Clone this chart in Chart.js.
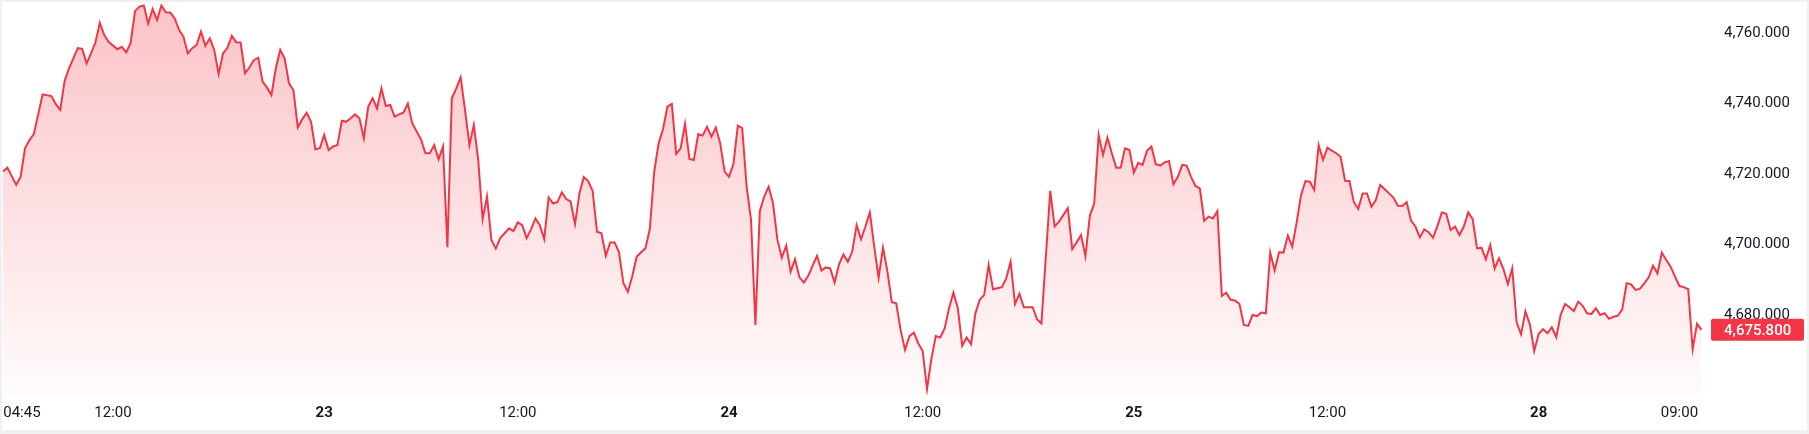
<!DOCTYPE html>
<html lang="en">
<head>
  <meta charset="UTF-8" />
  <title>Price chart</title>
  <script src="https://cdn.jsdelivr.net/npm/chart.js"></script>
  <style>
    html, body { margin: 0; padding: 0; background: #fff; }
    .frame {
      width: 1809px; height: 434px; box-sizing: border-box;
      border: 2px solid #f0f0f0; border-bottom-width: 4px;
    }
    .frame canvas { display: block; }
  </style>
</head>
<body>
  <div class="frame">
    <canvas id="grafico" width="1805" height="428"></canvas>
  </div>

  <script>
    // 15-minute bars, counted in trading time (weekend skipped)
    const bars = [
      0, 1, 3, 4, 5, 6, 7, 9, 11, 12, 13, 14, 15, 17, 18, 19, 20, 21, 22, 23,
      24, 26, 27, 28, 29, 30, 31, 32, 33, 34, 35, 36, 37, 38, 39, 40, 41, 42, 43, 44,
      45, 46, 47, 48, 49, 50, 51, 52, 53, 54, 55, 56, 57, 58, 59, 60, 61, 62, 63, 64,
      65, 66, 67, 68, 69, 70, 71, 72, 73, 74, 75, 76, 77, 78, 79, 80, 81, 82, 83, 84,
      85, 86, 87, 88, 89, 90, 91, 92, 93, 95, 96, 97, 98, 99, 100, 101, 102, 103, 104, 105,
      106, 107, 108, 109, 110, 111, 112, 113, 114, 115, 116, 117, 118, 119, 120, 121, 122, 123, 124, 125,
      126, 127, 128, 129, 130, 131, 132, 133, 134, 135, 136, 137, 138, 139, 140, 141, 142, 143, 144, 145,
      146, 147, 148, 149, 150, 151, 152, 153, 154, 155, 156, 157, 158, 159, 160, 161, 162, 163, 164, 165,
      166, 167, 168, 169, 170, 171, 172, 173, 174, 175, 176, 177, 178, 179, 180, 181, 182, 183, 184, 185,
      186, 187, 188, 189, 190, 191, 192, 193, 194, 195, 196, 197, 198, 199, 200, 201, 202, 203, 204, 205,
      206, 207, 208, 209, 210, 211, 212, 213, 214, 215, 216, 217, 218, 219, 220, 221, 222, 223, 224, 225,
      226, 227, 228, 229, 230, 231, 232, 233, 234, 235, 236, 237, 238, 239, 240, 241, 242, 243, 244, 245,
      246, 247, 248, 249, 250, 251, 252, 253, 254, 255, 256, 257, 258, 259, 260, 261, 262, 263, 264, 265,
      266, 267, 268, 269, 270, 271, 272, 273, 274, 275, 276, 277, 278, 279, 280, 281, 282, 283, 284, 285,
      286, 287, 288, 289, 290, 291, 292, 293, 294, 295, 296, 297, 298, 299, 300, 301, 302, 303, 304, 305,
      306, 307, 308, 309, 310, 311, 312, 313, 314, 315, 316, 317, 318, 319, 320, 321, 322, 323, 324, 325,
      326, 327, 328, 329, 330, 331, 332, 333, 334, 335, 336, 337, 338, 339, 340, 341, 342, 343, 344, 345,
      346, 347, 348, 349, 350, 351, 352, 353, 354, 355, 356, 357, 358, 359, 360, 361, 362, 363, 364, 365,
      366, 367, 368, 369, 370, 371, 372, 373, 374, 375, 376, 377, 378, 379, 380, 381, 382, 383, 384, 385,
      386
    ];

    const prices = [
      4720.7, 4721.8, 4716.9, 4719.2, 4727.3, 4729.6, 4731.3, 4742.6, 4742.1, 4739.8, 4738.2, 4746.4, 4750.0, 4755.7, 4755.5, 4751.4, 4754.2, 4757.3, 4762.9, 4759.4,
      4757.5, 4755.4, 4756.1, 4754.5, 4757.1, 4766.2, 4767.5, 4767.8, 4762.7, 4766.8, 4763.7, 4767.8, 4765.9, 4765.8, 4764.2, 4760.9, 4759.0, 4754.2, 4755.7, 4756.6,
      4760.4, 4756.4, 4758.5, 4755.2, 4748.4, 4754.2, 4755.8, 4759.2, 4757.4, 4757.3, 4748.6, 4750.2, 4752.3, 4753.0, 4746.2, 4744.5, 4742.4, 4750.0, 4755.2, 4752.8,
      4745.7, 4743.8, 4733.2, 4735.5, 4737.4, 4734.8, 4727.0, 4727.3, 4731.1, 4726.8, 4727.8, 4728.2, 4735.1, 4734.8, 4735.8, 4736.9, 4735.8, 4730.1, 4739.1, 4741.5,
      4738.6, 4744.3, 4739.3, 4739.6, 4736.3, 4736.9, 4737.4, 4740.0, 4734.4, 4729.8, 4725.9, 4725.9, 4728.2, 4724.2, 4727.8, 4699.2, 4741.5, 4744.3, 4747.4, 4738.2,
      4728.2, 4733.9, 4724.0, 4707.2, 4713.6, 4701.3, 4698.9, 4701.8, 4703.2, 4704.6, 4703.8, 4706.3, 4705.5, 4701.8, 4704.3, 4707.4, 4705.5, 4701.5, 4713.3, 4711.7,
      4712.0, 4714.8, 4712.9, 4712.2, 4705.8, 4714.5, 4719.1, 4718.0, 4715.2, 4703.6, 4703.2, 4696.8, 4700.6, 4700.6, 4697.8, 4689.0, 4686.6, 4690.9, 4696.5, 4697.8,
      4698.9, 4704.4, 4720.7, 4728.7, 4732.7, 4739.1, 4739.9, 4725.7, 4727.3, 4734.2, 4724.3, 4724.0, 4731.3, 4730.9, 4733.4, 4730.6, 4733.2, 4728.7, 4720.7, 4719.2,
      4722.8, 4733.7, 4733.0, 4716.4, 4707.0, 4677.2, 4709.5, 4713.6, 4716.4, 4711.7, 4701.3, 4696.3, 4699.7, 4692.3, 4695.8, 4690.7, 4689.2, 4691.1, 4694.0, 4696.8,
      4692.6, 4693.5, 4693.2, 4689.2, 4694.4, 4697.2, 4695.1, 4698.0, 4705.5, 4701.5, 4705.1, 4709.1, 4699.4, 4690.6, 4699.1, 4692.3, 4683.6, 4683.3, 4675.7, 4670.1,
      4674.0, 4675.0, 4672.0, 4669.8, 4659.0, 4667.7, 4674.0, 4673.6, 4676.2, 4681.9, 4686.3, 4681.9, 4671.3, 4673.6, 4671.7, 4680.5, 4684.4, 4685.7, 4694.2, 4687.3,
      4687.6, 4687.9, 4690.4, 4695.1, 4683.1, 4686.0, 4682.2, 4682.2, 4682.2, 4678.8, 4677.6, 4696.4, 4715.2, 4705.1, 4706.5, 4708.4, 4710.3, 4698.7, 4700.6, 4702.7,
      4696.7, 4708.1, 4711.7, 4731.1, 4725.4, 4730.3, 4725.9, 4721.8, 4721.8, 4727.3, 4726.8, 4720.4, 4723.2, 4722.6, 4726.6, 4727.8, 4722.8, 4722.4, 4723.3, 4723.7,
      4717.1, 4719.2, 4722.6, 4722.4, 4719.2, 4716.6, 4715.9, 4706.7, 4707.9, 4707.4, 4709.5, 4685.4, 4686.3, 4684.3, 4684.1, 4683.1, 4677.2, 4676.9, 4680.0, 4679.7,
      4680.7, 4680.5, 4697.7, 4692.6, 4697.8, 4697.7, 4702.5, 4699.4, 4706.2, 4714.0, 4718.0, 4717.8, 4715.5, 4728.2, 4724.0, 4727.5, 4726.6, 4725.9, 4724.9, 4718.1,
      4718.0, 4712.0, 4710.1, 4714.5, 4714.5, 4710.7, 4712.6, 4716.9, 4715.7, 4714.5, 4713.3, 4711.0, 4710.9, 4712.0, 4706.8, 4705.1, 4702.0, 4704.3, 4703.5, 4701.9,
      4705.3, 4709.1, 4708.7, 4704.1, 4705.1, 4702.7, 4705.1, 4709.1, 4707.2, 4698.9, 4699.1, 4695.8, 4699.9, 4693.2, 4696.1, 4693.0, 4688.8, 4693.2, 4677.9, 4674.5,
      4681.0, 4677.4, 4669.8, 4674.6, 4676.0, 4674.8, 4676.5, 4673.7, 4680.0, 4683.1, 4682.2, 4681.1, 4683.8, 4682.6, 4680.5, 4680.3, 4681.9, 4680.0, 4680.5, 4678.9,
      4679.5, 4679.8, 4681.6, 4689.0, 4688.7, 4687.1, 4687.4, 4689.0, 4690.6, 4694.0, 4691.8, 4697.7, 4695.6, 4693.7, 4690.9, 4688.2, 4687.9, 4687.3, 4670.3, 4677.5,
      4675.8
    ];

    // time axis labels and where they sit (in bars)
    const tickBars = [4.3, 25, 73, 117, 165, 209, 257, 301, 349, 381];
    const tickLabels = ['04:45', '12:00', '23', '12:00', '24', '12:00', '25', '12:00', '28', '09:00'];
    const dayLabels = ['23', '24', '25', '28'];

    // price axis
    const priceTicks = [4680, 4700, 4720, 4740, 4760];

    const vermelho = '#f23645';
    const fonte = 'Roboto, "Noto Sans", sans-serif';

    function formatarPreco(v) {
      return v.toLocaleString('en-US', { minimumFractionDigits: 3, maximumFractionDigits: 3 });
    }

    // red tag with the last price on the price axis
    const etiquetaUltimo = {
      id: 'etiquetaUltimo',
      afterDraw(chart) {
        const ctx = chart.ctx;
        const y = chart.scales.y;
        const ultimo = prices[prices.length - 1];
        const py = y.getPixelForValue(ultimo);
        const x0 = chart.chartArea.right - 1;
        ctx.save();
        ctx.fillStyle = vermelho;
        ctx.beginPath();
        ctx.roundRect(x0, py - 11, 93, 22, 2);
        ctx.fill();
        ctx.fillStyle = '#ffffff';
        ctx.font = '500 15px ' + fonte;
        ctx.textAlign = 'left';
        ctx.textBaseline = 'middle';
        ctx.fillText(formatarPreco(ultimo), chart.chartArea.right + 12, py + 1);
        ctx.restore();
      }
    };

    const pontos = bars.map((b, i) => ({ x: b, y: prices[i] }));

    // no extra padding from tick labels: the plot goes edge to edge
    function semPadding(scale) {
      scale.paddingLeft = 0;
      scale.paddingRight = 0;
      scale.paddingTop = 0;
      scale.paddingBottom = 0;
    }

    const config = {
      type: 'line',
      data: {
        datasets: [{
          data: pontos,
          borderColor: vermelho,
          borderWidth: 2,
          pointRadius: 0,
          tension: 0,
          fill: 'start',
          backgroundColor: (context) => {
            const area = context.chart.chartArea;
            if (!area) return 'rgba(242,54,69,0.2)';
            const g = context.chart.ctx.createLinearGradient(0, area.top, 0, area.bottom);
            g.addColorStop(0, 'rgba(242,54,69,0.30)');
            g.addColorStop(1, 'rgba(242,54,69,0.02)');
            return g;
          }
        }]
      },
      options: {
        responsive: false,
        animation: false,
        layout: { padding: 0 },
        plugins: {
          legend: { display: false },
          tooltip: { enabled: false }
        },
        scales: {
          x: {
            type: 'linear',
            min: -0.23,
            max: 388.4,
            grid: { display: false, drawTicks: false },
            border: { display: false },
            afterBuildTicks: (scale) => {
              scale.ticks = tickBars.map(v => ({ value: v }));
            },
            afterFit: (scale) => { scale.height = 35; semPadding(scale); },
            ticks: {
              autoSkip: false,
              maxRotation: 0,
              padding: 9,
              color: '#131722',
              font: (c) => ({
                family: fonte,
                size: 15,
                weight: (c.tick && dayLabels.includes(tickLabels[tickBars.indexOf(c.tick.value)])) ? 'bold' : 'normal'
              }),
              callback: (v) => tickLabels[tickBars.indexOf(v)]
            }
          },
          y: {
            position: 'right',
            min: 4657.3,
            max: 4768.8,
            grid: { display: false, drawTicks: false },
            border: { display: false },
            afterBuildTicks: (scale) => {
              scale.ticks = priceTicks.map(v => ({ value: v }));
            },
            afterFit: (scale) => { scale.width = 95; semPadding(scale); },
            ticks: {
              padding: 12,
              color: '#131722',
              font: { family: fonte, size: 15 },
              callback: (v) => formatarPreco(v)
            }
          }
        }
      },
      plugins: [etiquetaUltimo]
    };

    new Chart(document.getElementById('grafico'), config);
  </script>
</body>
</html>
